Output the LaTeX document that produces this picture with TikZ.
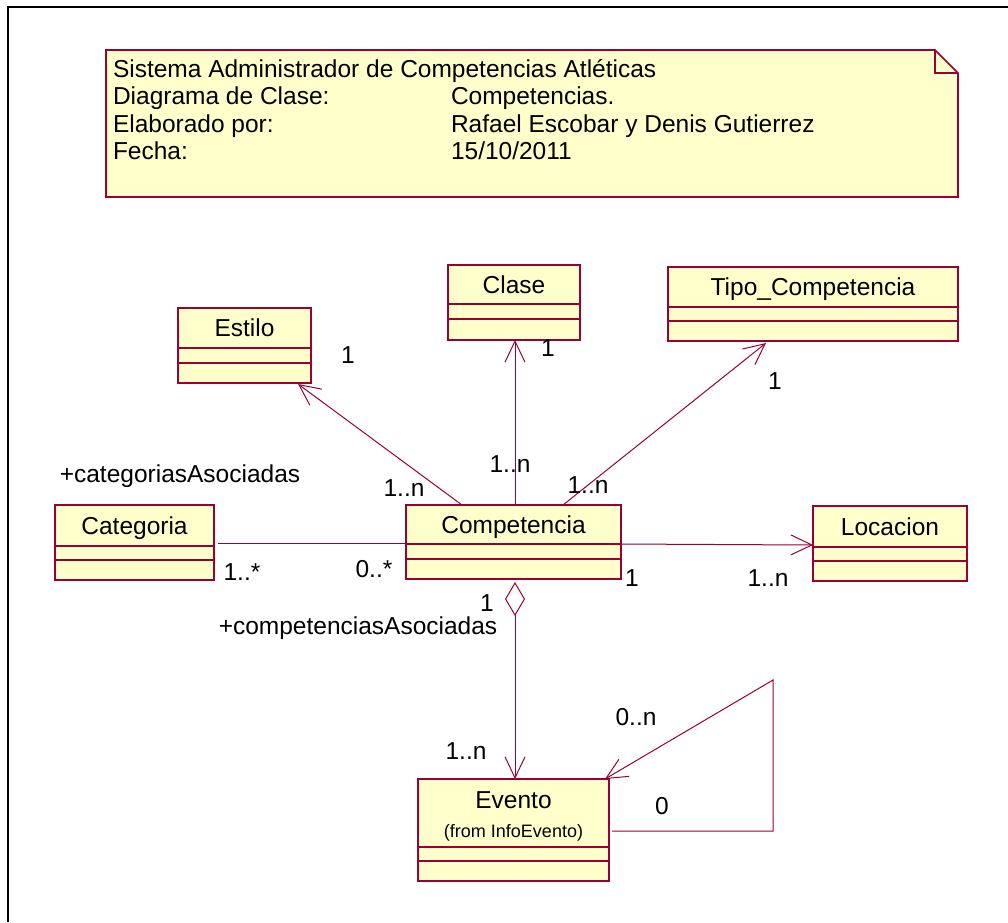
\documentclass[tikz,border=0pt]{standalone}
\usepackage{fontspec}
\setmainfont{Liberation Sans}
\usetikzlibrary{arrows.meta,calc}
\definecolor{roseline}{RGB}{153,0,51}
\definecolor{rosefill}{RGB}{255,255,204}

% two separator lines of a class box, at the given depths below its top
\newcommand\compartments[3]{%
  \draw[compline] ([yshift=-#2pt]#1.north west) -- ([yshift=-#2pt]#1.north east);
  \draw[compline] ([yshift=-#3pt]#1.north west) -- ([yshift=-#3pt]#1.north east);
}

\begin{document}
\begin{tikzpicture}[x=1pt,y=-1pt,
  every node/.style={font=\fontsize{24.5}{27.5}\selectfont, inner sep=0pt, outer sep=0pt},
  classbox/.style={draw=roseline, fill=rosefill, line width=1.6pt, anchor=north west},
  compline/.style={draw=roseline, line width=1.2pt},
  classname/.style={anchor=base},
  mult/.style={anchor=base},
  link/.style={draw=roseline, line width=1pt},
  assoc/.style={link, -{Straight Barb[length=21pt,width=20pt,line width=1pt]}},
  aggreg/.style={link, {Diamond[open,length=34pt,width=20pt,line width=1pt]}-{Straight Barb[length=21pt,width=20pt,line width=1pt]}},
  notebox/.style={draw=roseline, fill=rosefill, line width=1.6pt},
  notetext/.style={anchor=base west}]

\useasboundingbox (0,0) rectangle (1008,922);
\fill[white] (0,0) rectangle (1008,922);

% frame
\draw[black, line width=1.3pt] (8,922) -- (8,7) -- (1008,7);

% title note with folded corner
\coordinate (nA) at (106,50);
\coordinate (nB) at (958,197);
\filldraw[notebox] (nA) -- (935,50) -- (958,73) -- (nB) -- (106,197) -- cycle;
\draw[compline] (935,50) -- (935,73) -- (958,73);
\node[notetext] (t1) at (113,77) {Sistema Administrador de Competencias Atléticas};
\node[notetext] (t2) at (113,104.5) {Diagrama de Clase:};
\node[notetext] (t3) at (113,132) {Elaborado por:};
\node[notetext] (t4) at (113,159.5) {Fecha:};
\node[notetext] (v2) at (451,104.5) {Competencias.};
\node[notetext] (v3) at (451,132) {Rafael Escobar y Denis Gutierrez};
\node[notetext] (v4) at (451,159.5) {15/10/2011};

% classes
\node[classbox, minimum width=133pt, minimum height=75pt] (estilo) at (178,308) {};
\compartments{estilo}{40}{55}
\node[classname] (estiloN) at ($(estilo.north)+(0,28)$) {Estilo};

\node[classbox, minimum width=132pt, minimum height=75pt] (clase) at (448,265) {};
\compartments{clase}{39}{54}
\node[classname] (claseN) at ($(clase.north)+(0,28)$) {Clase};

\node[classbox, minimum width=290pt, minimum height=74pt] (tipo) at (668,267) {};
\compartments{tipo}{40}{54}
\node[classname] (tipoN) at ($(tipo.north)+(0,28)$) {Tipo\_Competencia};

\node[classbox, minimum width=215pt, minimum height=74pt] (comp) at (406,505) {};
\compartments{comp}{39}{54}
\node[classname] (compN) at ($(comp.north)+(0,28)$) {Competencia};

\node[classbox, minimum width=159pt, minimum height=75pt] (categ) at (55,505) {};
\compartments{categ}{41}{55}
\node[classname] (categN) at ($(categ.north)+(0,29)$) {Categoria};

\node[classbox, minimum width=154pt, minimum height=75pt] (locac) at (813,506) {};
\compartments{locac}{41}{55}
\node[classname] (locacN) at ($(locac.north)+(0,29)$) {Locacion};

\node[classbox, minimum width=191pt, minimum height=102pt] (evento) at (418,779) {};
\compartments{evento}{68}{82}
\node[classname] (eventoN) at ($(evento.north)+(0,29)$) {Evento};
\node[classname, font=\fontsize{18}{20}\selectfont] (eventoF) at ($(evento.north)+(0,58)$) {(from InfoEvento)};

% associations
\draw[assoc] ([xshift=56pt]comp.north west) -- ([xshift=-13pt,yshift=-1pt]estilo.south east);
\draw[assoc] ([xshift=109pt]comp.north west) -- ([xshift=67pt]clase.south west);
\draw[assoc] ([xshift=157pt]comp.north west) -- ([xshift=98pt,yshift=-2pt]tipo.south west);
\draw[link] ([xshift=4pt,yshift=-38pt]categ.north east) -- ([yshift=-38pt]comp.north west);
\draw[assoc] ([yshift=-39pt]comp.north east) -- ([yshift=-39pt]locac.north west);
\draw[aggreg] ([xshift=109pt,yshift=-3pt]comp.south west) -- ([xshift=97pt]evento.north west);
\coordinate (loopA) at (773,831);
\coordinate (loopB) at (773,680);
\draw[assoc] ([xshift=3pt,yshift=-52pt]evento.north east) -- (loopA) -- (loopB) -- ([xshift=-4pt]evento.north east);

% multiplicities and role names
\node[mult] (m1) at (348,363) {1};
\node[mult] (m2) at (404,496) {1..n};
\node[mult] (m3) at (548,356) {1};
\node[mult] (m4) at (510,472) {1..n};
\node[mult] (m5) at (775,389) {1};
\node[mult] (m6) at (588,493) {1..n};
\node[mult] (r1) at (180,482) {+categoriasAsociadas};
\node[mult] (m7) at (242,580) {1..*};
\node[mult] (m8) at (374,577) {0..*};
\node[mult] (m9) at (632,586) {1};
\node[mult] (m10) at (768,586) {1..n};
\node[mult] (m11) at (487,611) {1};
\node[mult] (r2) at (358,634) {+competenciasAsociadas};
\node[mult] (m12) at (466,759) {1..n};
\node[mult] (m13) at (636,725) {0..n};
\node[mult] (m14) at (662,814) {0};
\end{tikzpicture}
\end{document}
